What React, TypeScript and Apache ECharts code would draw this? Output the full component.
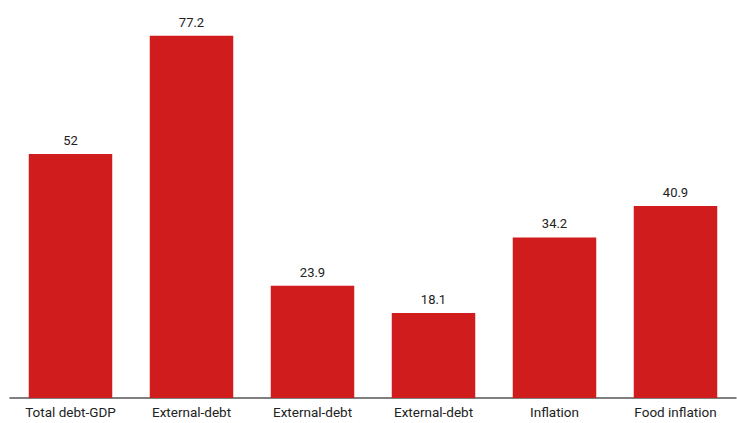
import React, { useEffect, useRef } from "react";
import * as echarts from "echarts";

const categories = [
  "Total debt-GDP",
  "External-debt",
  "External-debt",
  "External-debt",
  "Inflation",
  "Food inflation",
];
const values = [52, 77.2, 23.9, 18.1, 34.2, 40.9];

export default function App() {
  const ref = useRef<HTMLDivElement>(null);

  useEffect(() => {
    if (!ref.current) return;
    const chart = echarts.init(ref.current, undefined, { renderer: "svg" });
    chart.setOption({
      animation: false,
      backgroundColor: "#ffffff",
      grid: { left: 10, right: 1, top: 22.5, bottom: 25, containLabel: false },
      xAxis: {
        type: "category",
        data: categories,
        axisLine: { show: true, lineStyle: { color: "#555555", width: 1.5 } },
        axisTick: { show: false },
        axisLabel: {
          color: "#222222",
          fontFamily: "Roboto",
          fontSize: 13.5,
          margin: 7,
          interval: 0,
        },
      },
      yAxis: {
        type: "value",
        min: 0,
        max: 80,
        show: false,
        splitLine: { show: false },
      },
      series: [
        {
          type: "bar",
          data: values,
          barCategoryGap: "31%",
          itemStyle: { color: "#d01c1c" },
          label: {
            show: true,
            position: "top",
            distance: 7,
            color: "#222222",
            fontFamily: "Roboto",
            fontSize: 13,
          },
        },
      ],
    });
    return () => chart.dispose();
  }, []);

  return (
    <div
      ref={ref}
      style={{ position: "absolute", left: 0, top: 0, width: 737, height: 423 }}
    />
  );
}
